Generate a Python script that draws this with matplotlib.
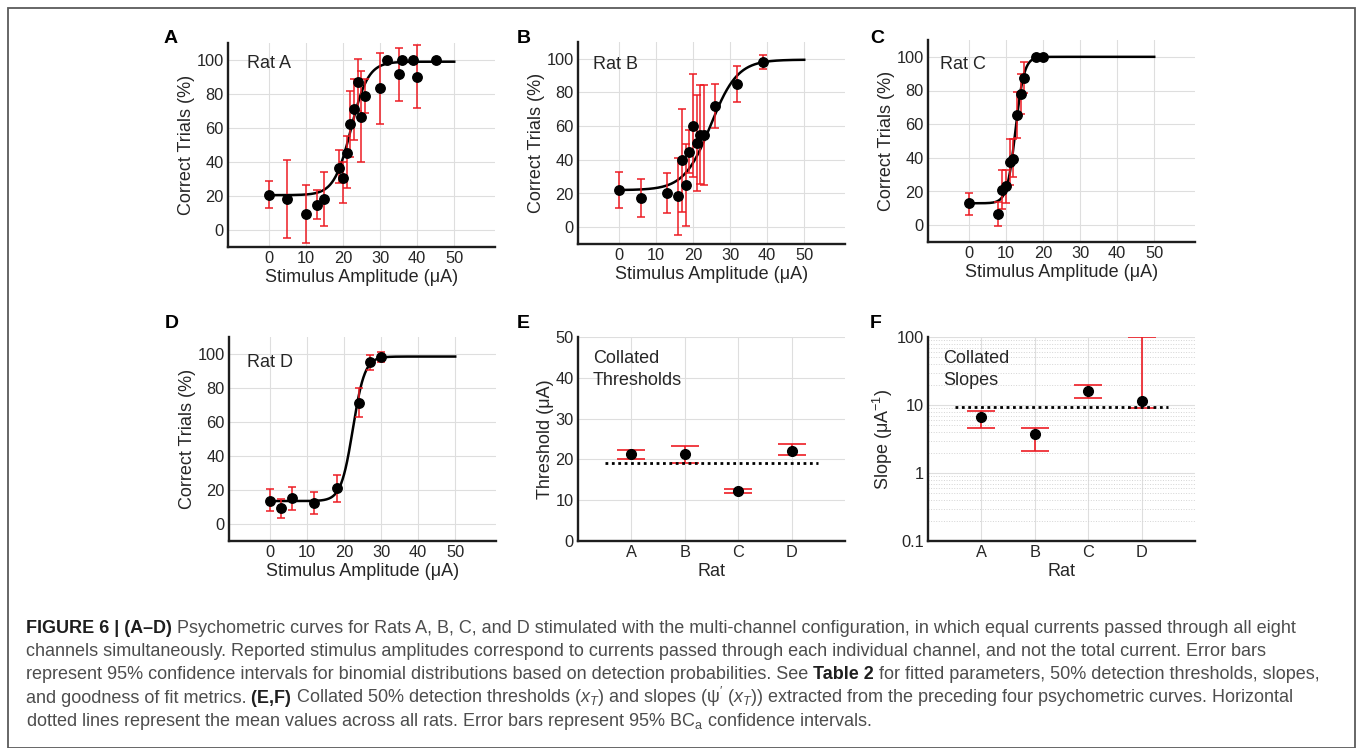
import numpy as np
import matplotlib
matplotlib.use('Agg')
import matplotlib.pyplot as plt
from matplotlib.patches import Rectangle
from matplotlib.ticker import NullFormatter

plt.rcParams['font.family'] = ['Liberation Sans', 'DejaVu Sans']
plt.rcParams['mathtext.fontset'] = 'custom'
plt.rcParams['mathtext.rm'] = 'Liberation Sans'
plt.rcParams['mathtext.it'] = 'Liberation Sans:italic'
plt.rcParams['mathtext.bf'] = 'Liberation Sans:bold'

# psychometric data, % correct with 95% CI
ratA_x = [0, 5, 10, 13, 15, 19, 20, 21, 22, 23, 24, 25, 26, 30, 32, 35, 36, 39, 40, 45]
ratA_y = [20.8, 18.2, 9.2, 14.7, 18.2, 36.7, 30.8, 45.5, 62.4, 71, 87, 66.7, 78.8, 83.5, 100, 92, 100, 100, 90, 100]
ratA_lo = [13.1, -4.5, -7.6, 6.3, 2.2, 27.8, 15.7, 24.7, 43, 53, 70, 40, 69, 62.2, 100, 76, 100, 100, 71.6, 100]
ratA_hi = [28.6, 41, 26.3, 23.3, 34.3, 47, 40.2, 55.3, 82, 89, 100.8, 93.5, 88.6, 104.3, 100, 107, 100, 100, 108.8, 100]

ratB_x = [0, 6, 13, 16, 17, 18, 19, 20, 21, 22, 23, 26, 32, 39]
ratB_y = [21.9, 17.6, 20.3, 18.3, 39.8, 24.9, 44.8, 60.2, 50.1, 54.8, 54.8, 71.8, 84.8, 98.4]
ratB_lo = [11.2, 6.3, 8.5, -4.9, 9.3, 0.4, 32, 30, 21.5, 25.6, 25, 59, 74.4, 94]
ratB_hi = [32.5, 28.8, 32.3, 41, 70.4, 49.3, 57.8, 90.7, 78.3, 84.2, 84.2, 85.2, 95.5, 102.4]

ratC_x = [0, 8, 9, 10, 11, 12, 13, 14, 15, 18, 20]
ratC_y = [13.1, 6.8, 21.1, 23.1, 37.6, 39.5, 65.2, 77.9, 87.5, 100, 100]
ratC_lo = [6.3, -0.4, 9.4, 13.3, 23.7, 28.4, 51.5, 65.8, 78.3, 100, 100]
ratC_hi = [19.4, 13.7, 32.5, 32.5, 51.3, 51.3, 78.9, 89.6, 96.9, 100, 100]

ratD_x = [0, 3, 6, 12, 18, 24, 27, 30]
ratD_y = [13.7, 9.4, 15.3, 12.4, 21, 71.2, 95.1, 98.4]
ratD_lo = [7.5, 3.5, 8.2, 5.9, 13.1, 62.7, 90.8, 95.5]
ratD_hi = [20.6, 14.7, 22, 18.6, 29, 80, 99.4, 101]

# fitted logistic parameters per rat (A, B, C, D)
fit_lower = [20.5, 22.0, 13.0, 13.5]
fit_upper = [99.0, 99.5, 100.0, 98.5]
fit_mid = [22.2, 24.8, 12.6, 22.4]
fit_scale = [2.3, 3.6, 1.15, 1.6]

# collated values
rats = ['A', 'B', 'C', 'D']
thr = [21.3, 21.3, 12.2, 22.0]
thr_lo = [20.1, 19.0, 11.7, 21.2]
thr_hi = [22.3, 23.4, 12.8, 23.7]
thr_mean = 19.2
slope = [6.6, 3.8, 16.1, 11.4]
slope_lo = [4.55, 2.13, 12.5, 9.1]
slope_hi = [8.3, 4.65, 19.7, 98.9]
slope_mean = 9.3

W, H = 1358, 748
red = '#ed1c24'
grid_c = '#dedede'
txt_c = '#262626'
tick_fs = 11.8
lab_fs = 13

fig = plt.figure(figsize=(W / 100, H / 100), dpi=100)
fig.patch.set_facecolor('white')


def px_axes(l, t, r, b):
    return fig.add_axes([l / W, 1 - b / H, (r - l) / W, (b - t) / H])


def style(ax):
    for s in ['top', 'right']:
        ax.spines[s].set_visible(False)
    for s in ['left', 'bottom']:
        ax.spines[s].set_linewidth(1.7)
        ax.spines[s].set_color('#1e1e1e')
    ax.tick_params(which='both', length=0, labelsize=tick_fs, pad=3, labelcolor=txt_c)
    ax.set_axisbelow(True)


def psych_panel(ax, x, y, lo, hi, k, name, tx, ty):
    style(ax)
    ax.set_xlim(-11, 61)
    ax.set_ylim(-10, 110)
    ax.set_xticks(range(0, 51, 10))
    ax.set_yticks(range(0, 101, 20))
    ax.grid(True, color=grid_c, lw=0.8)
    xs = np.linspace(0, 50, 500)
    ys = fit_lower[k] + (fit_upper[k] - fit_lower[k]) / (1 + np.exp(-(xs - fit_mid[k]) / fit_scale[k]))
    ax.plot(xs, ys, color='black', lw=1.8, zorder=3)
    y = np.array(y)
    yerr = [y - np.array(lo), np.array(hi) - y]
    ax.errorbar(x, y, yerr=yerr, fmt='none', ecolor=red, elinewidth=1.1,
                capsize=3, capthick=1.1, zorder=3.5)
    ax.plot(x, y, 'o', color='black', ms=6.8, zorder=4)
    ax.set_xlabel('Stimulus Amplitude (μA)', fontsize=lab_fs, color=txt_c, labelpad=2)
    ax.set_ylabel('Correct Trials (%)', fontsize=lab_fs, color=txt_c, labelpad=1)
    ax.text(tx, ty, name, transform=ax.transAxes, fontsize=13, va='center', color=txt_c)


axA = px_axes(228, 43, 495, 247)
axB = px_axes(578, 42, 845, 244)
axC = px_axes(928, 40, 1195, 242)
axD = px_axes(229, 337, 496, 541)
axE = px_axes(578, 337, 845, 541)
axF = px_axes(928, 337, 1195, 541)

psych_panel(axA, ratA_x, ratA_y, ratA_lo, ratA_hi, 0, 'Rat A', 0.07, 0.90)
psych_panel(axB, ratB_x, ratB_y, ratB_lo, ratB_hi, 1, 'Rat B', 0.056, 0.89)
psych_panel(axC, ratC_x, ratC_y, ratC_lo, ratC_hi, 2, 'Rat C', 0.045, 0.88)
psych_panel(axD, ratD_x, ratD_y, ratD_lo, ratD_hi, 3, 'Rat D', 0.068, 0.877)

pos = np.arange(1, len(rats) + 1)

# E: thresholds
style(axE)
axE.set_xlim(0, 5)
axE.set_ylim(0, 50)
axE.set_xticks(pos)
axE.set_xticklabels(rats)
axE.set_yticks(range(0, 51, 10))
axE.grid(True, color=grid_c, lw=0.8)
t = np.array(thr)
axE.errorbar(pos, t, yerr=[t - np.array(thr_lo), np.array(thr_hi) - t], fmt='none',
             ecolor=red, elinewidth=1.2, capsize=10, capthick=1.2, zorder=3)
axE.plot(pos, t, 'o', color='black', ms=7, zorder=4)
axE.hlines(thr_mean, 0.5, 4.5, colors='black', lw=2, linestyles=(0, (1, 1.3)), zorder=3.5)
axE.set_xlabel('Rat', fontsize=lab_fs, color=txt_c, labelpad=2)
axE.set_ylabel('Threshold (μA)', fontsize=lab_fs, color=txt_c, labelpad=1)
axE.text(0.056, 0.935, 'Collated\nThresholds', transform=axE.transAxes, fontsize=13,
         va='top', linespacing=1.35, color=txt_c)

# F: slopes
style(axF)
axF.set_yscale('log')
axF.set_xlim(0, 5)
axF.set_ylim(0.1, 100)
axF.set_xticks(pos)
axF.set_xticklabels(rats)
axF.set_yticks([0.1, 1, 10, 100])
axF.set_yticklabels(['0.1', '1', '10', '100'])
axF.yaxis.set_minor_formatter(NullFormatter())
axF.grid(True, which='major', color=grid_c, lw=0.8)
axF.grid(True, which='minor', axis='y', color='#d4d4d4', lw=0.7, ls=':')
s = np.array(slope)
axF.errorbar(pos, s, yerr=[s - np.array(slope_lo), np.array(slope_hi) - s], fmt='none',
             ecolor=red, elinewidth=1.2, capsize=10, capthick=1.2, zorder=3)
axF.plot(pos, s, 'o', color='black', ms=7, zorder=4)
axF.hlines(slope_mean, 0.5, 4.5, colors='black', lw=2, linestyles=(0, (1, 1.3)), zorder=3.5)
axF.set_xlabel('Rat', fontsize=lab_fs, color=txt_c, labelpad=2)
axF.set_ylabel('Slope (μA$^{\\mathregular{-1}}$)', fontsize=lab_fs, color=txt_c, labelpad=1)
axF.text(0.056, 0.935, 'Collated\nSlopes', transform=axF.transAxes, fontsize=13,
         va='top', linespacing=1.35, color=txt_c)

# panel letters
letters = [('A', 164, 30), ('B', 517, 30), ('C', 870, 30),
           ('D', 165, 315), ('E', 517, 315), ('F', 870, 315)]
for lab, lx, ly in letters:
    fig.text(lx / W, 1 - ly / H, lab, fontsize=14, fontweight='bold', va='top', ha='left')

# outer frame
fig.add_artist(Rectangle((8 / W, 0.5 / H), 1347 / W, (H - 8.5) / H, transform=fig.transFigure,
                         fill=False, edgecolor='#5a5a5a', lw=1.3))

# caption, drawn piece by piece so bold runs sit inline
cap_c = '#4d4d4d'
bold_c = '#1e1e1e'
cap_fs = 13
caption = [
    [('FIGURE 6 | (A–D)', True), (' Psychometric curves for Rats A, B, C, and D stimulated with the multi-channel configuration, in which equal currents passed through all eight', False)],
    [('channels simultaneously. Reported stimulus amplitudes correspond to currents passed through each individual channel, and not the total current. Error bars', False)],
    [('represent 95% confidence intervals for binomial distributions based on detection probabilities. See', False), (' Table 2', True), (' for fitted parameters, 50% detection thresholds, slopes,', False)],
    [('and goodness of fit metrics.', False), (' (E,F)', True), (' Collated 50% detection thresholds ($x_T$) and slopes (ψ$^{\\prime}$ ($x_T$)) extracted from the preceding four psychometric curves. Horizontal', False)],
    [('dotted lines represent the mean values across all rats. Error bars represent 95% BC$_\\mathregular{a}$ confidence intervals.', False)],
]
renderer = fig.canvas.get_renderer()
base_y = 633
for i, line in enumerate(caption):
    x = 26
    yb = base_y + i * 23.2
    for piece, bold in line:
        tt = fig.text(x / W, 1 - yb / H, piece, fontsize=cap_fs, va='baseline', ha='left',
                      fontweight='bold' if bold else 'normal', color=bold_c if bold else cap_c)
        x = tt.get_window_extent(renderer).x1

fig.savefig('out.png', dpi=100)
